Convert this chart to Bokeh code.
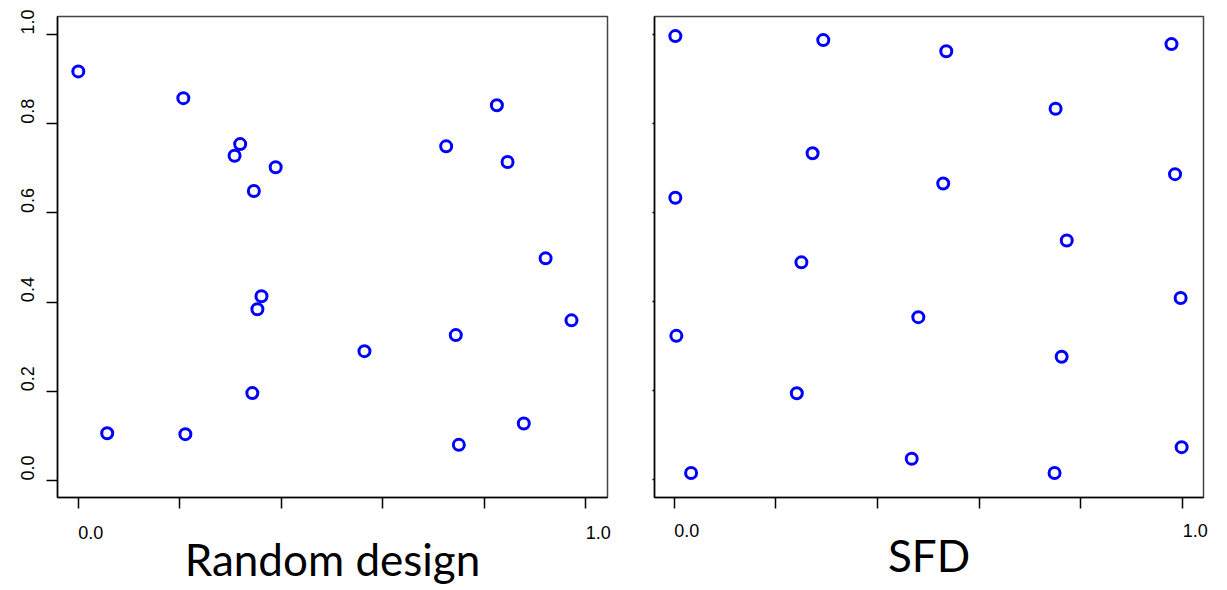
from bokeh.plotting import figure
from bokeh.models import Range1d, LinearAxis, FixedTicker
from bokeh.layouts import row
from bokeh.embed import file_html
from bokeh.resources import INLINE

# ---- data ----
rand_x = [0.000, 0.057, 0.207, 0.211, 0.319, 0.308, 0.389, 0.346, 0.361, 0.353,
          0.343, 0.564, 0.725, 0.825, 0.846, 0.744, 0.750, 0.878, 0.921, 0.972]
rand_y = [0.917, 0.106, 0.857, 0.104, 0.754, 0.728, 0.702, 0.649, 0.413, 0.384,
          0.196, 0.290, 0.749, 0.841, 0.714, 0.326, 0.080, 0.128, 0.498, 0.359]

sfd_x = [0.002, 0.293, 0.535, 0.978, 0.750, 0.272, 0.529, 0.985, 0.002, 0.250,
         0.772, 0.480, 0.996, 0.004, 0.762, 0.241, 0.033, 0.467, 0.748, 0.998]
sfd_y = [0.996, 0.987, 0.962, 0.978, 0.833, 0.733, 0.665, 0.686, 0.633, 0.488,
         0.537, 0.365, 0.408, 0.323, 0.276, 0.194, 0.015, 0.047, 0.015, 0.073]

tick_values = [0.0, 0.2, 0.4, 0.6, 0.8, 1.0]
y_tick_labels = ["0.0", "0.2", "0.4", "0.6", "0.8", "1.0"]
x_label_values = [0.0, 1.0]
x_tick_labels = ["0.0", "1.0"]
titles = ["Random design", "SFD"]

LABEL_FONT = "Liberation Sans"
TITLE_FONT = "Lato"
BLUE = "#0000FF"


def make_panel(xs, ys, title, x_rng, y_rng, show_ylabels, ytick_len,
               w, h, bl, br, bt, bb, lab_standoff, title_standoff):
    p = figure(width=w, height=h, x_range=Range1d(*x_rng), y_range=Range1d(*y_rng),
               output_backend="svg", toolbar_location=None,
               x_axis_location=None, y_axis_location=None,
               min_border_left=bl, min_border_right=br,
               min_border_top=bt, min_border_bottom=bb)
    p.xgrid.visible = False
    p.ygrid.visible = False
    p.outline_line_color = "#444444"
    p.outline_line_width = 1.5
    p.background_fill_color = "white"
    p.border_fill_color = "white"

    p.scatter(xs, ys, marker="circle", size=11, fill_color=None,
              line_color=BLUE, line_width=3)

    # labels start at their tick: shift label centres by half a label width
    x_scale = (w - bl - br) / (x_rng[1] - x_rng[0])
    y_scale = (h - bt - bb) / (y_rng[1] - y_rng[0])
    half_label = 12.5

    common = dict(major_tick_out=0, major_tick_in=0, minor_tick_in=0,
                  minor_tick_line_color="black", minor_tick_line_width=1.5,
                  axis_line_color="black", axis_line_width=1.5,
                  major_label_text_font=LABEL_FONT,
                  major_label_text_font_size="18px",
                  major_label_text_color="black")

    if show_ylabels:
        dy = half_label / y_scale
        yt = [v + dy for v in tick_values]
        ya = LinearAxis(ticker=FixedTicker(ticks=yt, minor_ticks=tick_values),
                        major_label_overrides={t: s for t, s in zip(yt, y_tick_labels)},
                        minor_tick_out=ytick_len, major_label_standoff=12,
                        major_label_orientation="vertical", **common)
    else:
        ya = LinearAxis(ticker=FixedTicker(ticks=[], minor_ticks=tick_values),
                        minor_tick_out=ytick_len, major_label_standoff=0, **common)
    p.add_layout(ya, "left")

    dx = half_label / x_scale
    xt = [v + dx for v in x_label_values]
    xa = LinearAxis(ticker=FixedTicker(ticks=xt, minor_ticks=tick_values),
                    major_label_overrides={t: s for t, s in zip(xt, x_tick_labels)},
                    minor_tick_out=11, major_label_standoff=lab_standoff,
                    axis_label=title, axis_label_standoff=title_standoff,
                    axis_label_text_font=TITLE_FONT,
                    axis_label_text_font_size="44px",
                    axis_label_text_font_style="normal",
                    axis_label_text_color="black", **common)
    p.add_layout(xa, "below")
    return p


p1 = make_panel(rand_x, rand_y, titles[0], (-0.041, 1.043), (-0.038, 1.040), True, 11,
                630, 590, 57, 23, 14, 93, 17, -9)
p2 = make_panel(sfd_x, sfd_y, titles[1], (-0.039, 1.041), (-0.040, 1.040), False, 2,
                590, 590, 24, 17, 16, 89, 15, -11)

layout = row(p1, p2)
open("out.html", "w").write(file_html(layout, INLINE))
